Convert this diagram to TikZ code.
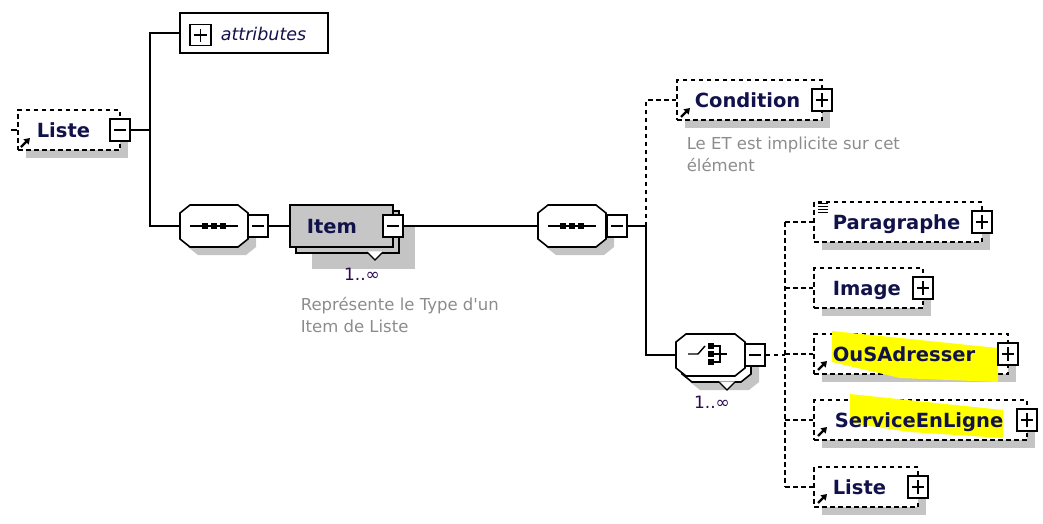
\documentclass[tikz,border=0pt]{standalone}
\usepackage{fontspec}
\setmainfont{DejaVu Sans}
\usetikzlibrary{arrows.meta}
\definecolor{shd}{HTML}{C4C4C4}
\definecolor{itemgray}{HTML}{C6C6C6}
\definecolor{lblc}{HTML}{12124A}
\definecolor{cmtc}{HTML}{8C8C8C}
\definecolor{cardc}{HTML}{2A0A50}
\definecolor{hlc}{HTML}{FFFF00}
\newcommand\shadowbox[4]{\fill[shd] (#1-#3/2+8,#2-#4/2+8) rectangle (#1+#3/2+8,#2+#4/2+8);}
\newcommand\octo[5]{\path[#5] (#1-#3/2+10,#2-#4/2) -- (#1+#3/2-10,#2-#4/2) -- (#1+#3/2,#2-#4/2+8) -- (#1+#3/2,#2+#4/2-8) -- (#1+#3/2-10,#2+#4/2) -- (#1-#3/2+10,#2+#4/2) -- (#1-#3/2,#2+#4/2-8) -- (#1-#3/2,#2-#4/2+8) -- cycle;}
\newcommand\refarrow[2]{\draw[line width=2.2pt,-{Triangle[length=5.5pt,width=7pt]}] (#1,#2) -- ++(9,-9);}
\newcommand\seqsym[2]{\draw[line width=1.4pt] (#1-24,#2) -- (#1+24,#2);
  \foreach \dx in {-9,0,9} {\fill (#1+\dx-3,#2-3) rectangle (#1+\dx+3,#2+3);}}
\begin{document}
\begin{tikzpicture}[x=1pt,y=-1pt,line width=1.6pt,
  dbox/.style={draw,dash pattern=on 4.5pt off 3.5pt,fill=white,inner sep=0},
  sbox/.style={draw,fill=white,inner sep=0},
  hid/.style={inner sep=0},
  conn/.style={line width=1.6pt},
  dconn/.style={line width=1.6pt,dash pattern=on 4.5pt off 3.5pt},
  mbox/.style={draw,fill=white,line width=1.5pt,minimum width=20pt,minimum height=22pt,inner sep=0,
    path picture={\draw[line width=1.5pt] ([xshift=4pt]path picture bounding box.west) -- ([xshift=-4pt]path picture bounding box.east);}},
  pbox/.style={draw,fill=white,line width=1.5pt,minimum width=20pt,minimum height=22pt,inner sep=0,
    path picture={\draw[line width=1.5pt] ([xshift=4pt]path picture bounding box.west) -- ([xshift=-4pt]path picture bounding box.east) ([yshift=4pt]path picture bounding box.south) -- ([yshift=-4pt]path picture bounding box.north);}},
  lbl/.style={anchor=base west,inner sep=0,text=lblc,font=\fontsize{19.5}{22}\selectfont\bfseries},
  cmt/.style={anchor=base west,inner sep=0,text=cmtc,font=\fontsize{16.5}{20}\selectfont},
  card/.style={anchor=base,inner sep=0,text=cardc,font=\fontsize{17}{20}\selectfont}]
\useasboundingbox (0,0) rectangle (1043,523);

% ---- shadows
\shadowbox{69}{130}{102}{40}
\octo{222}{234}{68}{42}{fill=shd}
\shadowbox{355.5}{240}{103}{42}
\octo{580}{234}{68}{42}{fill=shd}
\shadowbox{749.5}{100}{145}{40}
\octo{724.5}{369}{69}{42}{fill=shd}
\shadowbox{898}{222}{168}{40}
\shadowbox{868.5}{288}{109}{40}
\shadowbox{911}{354}{194}{40}
\shadowbox{920.5}{420}{213}{40}
\shadowbox{866}{487}{104}{40}

% ---- root
\node[dbox,minimum width=102pt,minimum height=40pt] (rl) at (69,130) {};
\refarrow{21}{147}
\node[lbl] (tListe) at (36,137.5) {Liste};
\node[mbox] (lm) at (120,130) {};

% ---- attributes
\node[sbox,minimum width=148pt,minimum height=40pt] (attr) at (254,33) {};
\node[pbox,minimum width=21pt,minimum height=21pt] (ap) at (200.5,35) {};
\node[anchor=base west,inner sep=0,text=lblc,font=\fontsize{17.5}{20}\selectfont\itshape] (tattr) at (220,40) {attributes};

% ---- sequence 1
\octo{214}{226}{68}{42}{draw,fill=white}
\node[hid,minimum width=68pt,minimum height=42pt] (seq1) at (214,226) {};
\seqsym{214}{226}
\node[mbox] (s1m) at (258,226) {};

% ---- Item
\node[draw,fill=itemgray,inner sep=0,minimum width=103pt,minimum height=42pt] (itemback) at (347.5,232) {};
\node[draw,fill=itemgray,inner sep=0,minimum width=103pt,minimum height=42pt] (item) at (341.5,226) {};
\fill[white] (367,251.3) -- (383,251.3) -- (375,259) -- cycle;
\draw[line width=1.2pt] (367,252) -- (375,260) -- (383,252);
\node[lbl] (tItem) at (306,233) {Item};
\node[mbox] (im) at (393,226) {};
\node[card] (card1) at (362,280) {1..∞};
\node[cmt] (c1a) at (300,310) {Représente le Type d\textquotesingle un};
\node[cmt] (c1b) at (300,332) {Item de Liste};

% ---- sequence 2
\octo{572}{226}{68}{42}{draw,fill=white}
\node[hid,minimum width=68pt,minimum height=42pt] (seq2) at (572,226) {};
\seqsym{572}{226}
\node[mbox] (s2m) at (617,226) {};

% ---- Condition
\node[dbox,minimum width=145pt,minimum height=40pt] (cond) at (749.5,100) {};
\refarrow{681}{117}
\node[lbl] (tcond) at (694,107) {Condition};
\node[pbox] (cp) at (822,100) {};
\node[cmt] (c2a) at (686,149) {Le ET est implicite sur cet};
\node[cmt] (c2b) at (686,171) {élément};

% ---- choice
\octo{716.5}{361}{69}{42}{draw,fill=white}
\fill[white] (719,381.3) -- (735,381.3) -- (727,389) -- cycle;
\draw[line width=1.2pt] (719,382) -- (727,390) -- (735,382);
\octo{710.5}{355}{69}{42}{draw,fill=white}
\node[hid,minimum width=69pt,minimum height=42pt] (choice) at (710.5,355) {};
\draw[line width=1.4pt] (688,354) -- (698,354) -- (705,346);
\fill (707.5,342.5) rectangle (713.5,348.5);
\fill (707.5,350.5) rectangle (713.5,356.5);
\fill (707.5,358.5) rectangle (713.5,364.5);
\draw[line width=1.4pt] (713,346) -- (720,346) -- (720,362) -- (713,362);
\draw[line width=1.4pt] (713,354) -- (727,354);
\node[mbox] (chm) at (755,355) {};
\node[card] (card2) at (712,408) {1..∞};

% ---- children
\node[dbox,minimum width=168pt,minimum height=40pt] (para) at (898,222) {};
\foreach \yy in {203,206,209,212} \draw[line width=1pt] (818,\yy) -- (828,\yy);
\node[lbl] (tpara) at (832,229) {Paragraphe};
\node[pbox] (pp) at (982,222) {};

\node[dbox,minimum width=109pt,minimum height=40pt] (img) at (868.5,288) {};
\node[lbl] (timg) at (832,295) {Image};
\node[pbox] (ip) at (923,288) {};

\node[dbox,minimum width=194pt,minimum height=40pt] (ouS) at (911,354) {};
\fill[hlc] (832,331) -- (998,348) -- (998,382) -- (900,378) -- (832,362) -- cycle;
\refarrow{818}{370}
\node[lbl] (touS) at (832,361) {OuSAdresser};
\node[pbox] (op) at (1008,354) {};

\node[dbox,minimum width=213pt,minimum height=40pt] (svc) at (920.5,420) {};
\fill[hlc] (850,394) -- (1003,410) -- (1003,438) -- (910,432) -- (850,423) -- cycle;
\refarrow{818}{436}
\node[lbl] (tsvc) at (834,427) {ServiceEnLigne};
\node[pbox] (sp) at (1027,420) {};

\node[dbox,minimum width=104pt,minimum height=40pt] (lst) at (866,487) {};
\refarrow{818}{503}
\node[lbl] (tlst) at (832,494) {Liste};
\node[pbox] (lp) at (918,487) {};

% ---- connectors
\coordinate (j1) at (150,130);
\coordinate (j2) at (646,226);
\coordinate (j3) at (785,355);
\coordinate (rlin) at (11,130);
\draw[conn] (rlin) -- (rl.west);
\draw[conn] (lm.east) -- (j1);
\draw[conn] (j1) |- (attr.west);
\draw[conn] (j1) |- (seq1.west);
\draw[conn] (s1m.east) -- (item.west);
\draw[conn] (im.east) -- (seq2.west);
\draw[conn] (s2m.east) -- (j2);
\draw[dconn] (j2) |- (cond.west);
\draw[conn] (j2) |- (choice.west);
\draw[dconn] (chm.east) -- (j3);
\draw[dconn] (j3 |- para.west) -- (j3 |- lst.west);
\foreach \n in {para,img,ouS,svc,lst} \draw[dconn] (j3 |- \n.west) -- (\n.west);
\end{tikzpicture}
\end{document}
